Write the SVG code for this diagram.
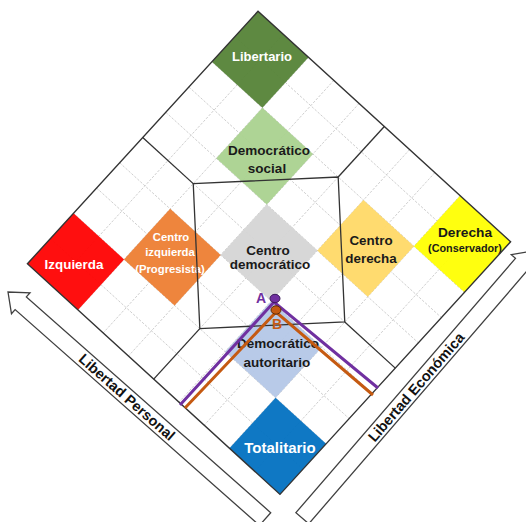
<svg xmlns="http://www.w3.org/2000/svg" width="526" height="522" viewBox="0 0 526 522">
<style>
.grid line{stroke:#c6c6c6;stroke-width:0.8;stroke-dasharray:2.5 1.5}
.sq{fill-opacity:0.94}
.frame{fill:none;stroke:#333;stroke-width:1.4}
.zone{fill:none;stroke:#333;stroke-width:1.3}
.lbl{font-family:"Liberation Sans",Arial,sans-serif;font-weight:bold;text-anchor:middle}
.w{fill:#ffffff}
.k{fill:#1a1a1a}
.arrow{fill:#ffffff;stroke:#404040;stroke-width:1.3;stroke-linejoin:miter}
.axis{font-family:"Liberation Sans",Arial,sans-serif;font-weight:bold;font-size:14.5px;fill:#111;text-anchor:middle}
</style>
<rect width="526" height="522" fill="#ffffff"/>
<g id="chart" transform="translate(269 252.8) rotate(42.4) translate(-171 -171)">
<rect x="0" y="0" width="342" height="342" fill="#ffffff"/>
<g class="grid">
<line x1="34.2" y1="0" x2="34.2" y2="342"/><line x1="68.4" y1="0" x2="68.4" y2="342"/><line x1="102.6" y1="0" x2="102.6" y2="342"/><line x1="136.8" y1="0" x2="136.8" y2="342"/><line x1="171" y1="0" x2="171" y2="342"/><line x1="205.2" y1="0" x2="205.2" y2="342"/><line x1="239.4" y1="0" x2="239.4" y2="342"/><line x1="273.6" y1="0" x2="273.6" y2="342"/><line x1="307.8" y1="0" x2="307.8" y2="342"/>
<line y1="34.2" x1="0" y2="34.2" x2="342"/><line y1="68.4" x1="0" y2="68.4" x2="342"/><line y1="102.6" x1="0" y2="102.6" x2="342"/><line y1="136.8" x1="0" y2="136.8" x2="342"/><line y1="171" x1="0" y2="171" x2="342"/><line y1="205.2" x1="0" y2="205.2" x2="342"/><line y1="239.4" x1="0" y2="239.4" x2="342"/><line y1="273.6" x1="0" y2="273.6" x2="342"/><line y1="307.8" x1="0" y2="307.8" x2="342"/>
</g>
</g>
<g id="nodes">
<g id="libertario"><rect class="sq" transform="translate(269 252.8) rotate(42.4) translate(-171 -171)" x="0" y="0" width="68.4" height="68.4" fill="#548235"/><text class="lbl w" x="262" y="61" font-size="13">Libertario</text></g>
<g id="democratico-social"><rect class="sq" transform="translate(269 252.8) rotate(42.4) translate(-171 -171)" x="68.4" y="68.4" width="68.4" height="68.4" fill="#A9D18E"/><text class="lbl k" x="269" y="155" font-size="13.5">Democrático</text><text class="lbl k" x="267" y="173" font-size="13.5">social</text></g>
<g id="centro-democratico"><rect class="sq" transform="translate(269 252.8) rotate(42.4) translate(-171 -171)" x="136.8" y="136.8" width="68.4" height="68.4" fill="#D4D4D4"/><text class="lbl k" x="268" y="255" font-size="13.5">Centro</text><text class="lbl k" x="270" y="268.5" font-size="13.5">democrático</text></g>
<g id="democratico-autoritario"><rect class="sq" transform="translate(269 252.8) rotate(42.4) translate(-171 -171)" x="205.2" y="205.2" width="68.4" height="68.4" fill="#B4C7E7"/><text class="lbl k" x="278" y="348" font-size="13.5">Democrático</text><text class="lbl k" x="277" y="367" font-size="13.5">autoritario</text></g>
<g id="totalitario"><rect class="sq" transform="translate(269 252.8) rotate(42.4) translate(-171 -171)" x="273.6" y="273.6" width="68.4" height="68.4" fill="#0070C0"/><text class="lbl w" x="280" y="453" font-size="15">Totalitario</text></g>
<g id="izquierda"><rect class="sq" transform="translate(269 252.8) rotate(42.4) translate(-171 -171)" x="0" y="273.6" width="68.4" height="68.4" fill="#FF0000"/><text class="lbl w" x="74" y="269" font-size="13.4">Izquierda</text></g>
<g id="centro-izquierda"><rect class="sq" transform="translate(269 252.8) rotate(42.4) translate(-171 -171)" x="68.4" y="205.2" width="68.4" height="68.4" fill="#ED7D31"/><text class="lbl w" x="171" y="241" font-size="11.3">Centro</text><text class="lbl w" x="170" y="256" font-size="11.3">izquierda</text><text class="lbl w" x="170" y="273" font-size="11.3">(Progresista)</text></g>
<g id="centro-derecha"><rect class="sq" transform="translate(269 252.8) rotate(42.4) translate(-171 -171)" x="205.2" y="68.4" width="68.4" height="68.4" fill="#FFD966"/><text class="lbl k" x="371" y="245" font-size="13.4">Centro</text><text class="lbl k" x="371" y="263" font-size="13.4">derecha</text></g>
<g id="derecha"><rect class="sq" transform="translate(269 252.8) rotate(42.4) translate(-171 -171)" x="273.6" y="0" width="68.4" height="68.4" fill="#FFFF00"/><text class="lbl k" x="465" y="237" font-size="13.7">Derecha</text><text class="lbl k" x="465" y="252" font-size="10.8">(Conservador)</text></g>
</g>
<g id="connectors">
<g transform="translate(269 252.8) rotate(42.4) translate(-171 -171)">
<rect class="frame" x="0" y="0" width="342" height="342"/>
<polygon class="zone" points="68.4,171 171,68.4 273.6,171 171,273.6"/>
<line class="zone" x1="68.4" y1="171" x2="0" y2="171"/>
<line class="zone" x1="171" y1="68.4" x2="171" y2="0"/>
<line class="zone" x1="273.6" y1="171" x2="342" y2="171"/>
<line class="zone" x1="171" y1="273.6" x2="171" y2="342"/>
</g>
<polyline points="180,405 274,302 378,388" fill="none" stroke="#7030A0" stroke-width="3"/>
<polyline points="185,408 276,312 373,395" fill="none" stroke="#C55A11" stroke-width="3"/>
</g>
<g id="point-a"><ellipse cx="275" cy="298.5" rx="5" ry="4.2" fill="#7030A0" stroke="#3b1a5a" stroke-width="1"/><text class="lbl" x="261" y="303" font-size="14" fill="#7030A0">A</text></g>
<g id="point-b"><ellipse cx="276" cy="310" rx="5" ry="4.2" fill="#C55A11" stroke="#5a2a08" stroke-width="1"/><text class="lbl" x="277" y="329" font-size="14" fill="#C55A11">B</text></g>
<g id="axis-personal">
<polygon class="arrow" transform="translate(8 292) rotate(221.45)" points="0,0 -17,-14 -17,-8.5 -343,-8.5 -343,8.5 -17,8.5 -17,14"/>
<text class="axis" transform="translate(127 397) rotate(41.45)" y="5.2">Libertad Personal</text>
</g>
<g id="axis-economica">
<polygon class="arrow" transform="translate(533 251) rotate(-49.2)" points="0,0 -17,-14 -17,-8.5 -353,-8.5 -353,8.5 -17,8.5 -17,14"/>
<text class="axis" transform="translate(416 387) rotate(-49.2)" y="5.2">Libertad Económica</text>
</g>
</svg>
